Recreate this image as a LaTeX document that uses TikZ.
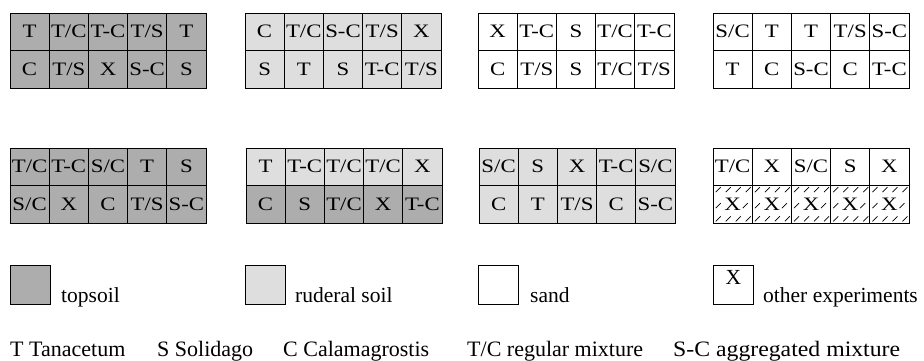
\documentclass[tikz,border=0pt]{standalone}
\usepackage{fontspec}
\setmainfont{Liberation Serif}
\newfontfamily\cellfont[FakeStretch=1.2]{Liberation Serif}
\newfontfamily\widefont[FakeStretch=1.08]{Liberation Serif}
\definecolor{topsoilc}{gray}{0.68}
\definecolor{ruderalc}{gray}{0.87}
\newcommand\gridrow[5]{%
  \foreach \t [count=\i] in {#5} {%
    \node[cell,#4] (#1-\i) at ({#2+(\i-0.5)*39.2},#3) {\t};
  }}
\begin{document}
\begin{tikzpicture}[x=1pt,y=-1pt,
  cell/.style={draw=black,line width=0.7pt,minimum width=39.2pt,minimum height=37.5pt,inner sep=0pt,
    font=\cellfont\fontsize{19}{19}\selectfont},
  topsoil/.style={fill=topsoilc},
  ruderal/.style={fill=ruderalc},
  sand/.style={fill=white},
  hatchcell/.style={fill=white},
  lab/.style={font=\fontsize{21.5}{22}\selectfont,inner sep=0pt,anchor=base west},
  keylab/.style={font=\fontsize{22}{22}\selectfont,inner sep=0pt,anchor=base west},
  legbox/.style={draw,line width=0.7pt,minimum width=40pt,minimum height=39pt,inner sep=0pt},
  slash/.style={line width=0.7pt}]
\useasboundingbox (0,0) rectangle (924,361);
% ---- row A of plots
\gridrow{a1}{10}{31.75}{topsoil}{T,T/C,T-C,T/S,T}
\gridrow{b1}{10}{69.25}{topsoil}{C,T/S,X,S-C,S}
\gridrow{a2}{245}{31.75}{ruderal}{C,T/C,S-C,T/S,X}
\gridrow{b2}{245}{69.25}{ruderal}{S,T,S,T-C,T/S}
\gridrow{a3}{478}{31.75}{sand}{X,T-C,S,T/C,T-C}
\gridrow{b3}{478}{69.25}{sand}{C,T/S,S,T/C,T/S}
\gridrow{a4}{713}{31.75}{sand}{S/C,T,T,T/S,S-C}
\gridrow{b4}{713}{69.25}{sand}{T,C,S-C,C,T-C}
% ---- row B of plots
\gridrow{a5}{10}{166.75}{topsoil}{T/C,T-C,S/C,T,S}
\gridrow{b5}{10}{204.25}{topsoil}{S/C,X,C,T/S,S-C}
\gridrow{a6}{246}{166.75}{ruderal}{T,T-C,T/C,T/C,X}
\gridrow{b6}{246}{204.25}{topsoil}{C,S,T/C,X,T-C}
\gridrow{a7}{479}{166.75}{ruderal}{S/C,S,X,T-C,S/C}
\gridrow{b7}{479}{204.25}{ruderal}{C,T,T/S,C,S-C}
\gridrow{a8}{713}{166.75}{sand}{T/C,X,S/C,S,X}
\gridrow{b8}{713}{204.25}{hatchcell}{X,X,X,X,X}
% hatch strokes in the last row
\foreach \i in {1,...,5} {
  \foreach \dx in {3,13,23,33} {
    \draw[slash] ([shift={(\dx,7)}]b8-\i.north west) -- ++(5,-5);
    \draw[slash] ([shift={(\dx,-2)}]b8-\i.south west) -- ++(5,-5);
  }
  \draw[slash] ([shift={(3,23)}]b8-\i.north west) -- ++(5,-5);
  \draw[slash] ([shift={(30,23)}]b8-\i.north west) -- ++(5,-5);
}
% ---- legend
\node[legbox,fill=topsoilc] (lt) at (30,284.5) {};
\node[lab] (ltt) at (61,302) {topsoil};
\node[legbox,fill=ruderalc] (lr) at (265,284.5) {};
\node[lab] (lrt) at (295,302) {ruderal soil};
\node[legbox,fill=white] (ls) at (498.5,284.5) {};
\node[lab] (lst) at (530,302) {sand};
\node[legbox,fill=white] (lx) at (733.5,284.5) {};
\node[font=\fontsize{21.5}{22}\selectfont,inner sep=0pt,anchor=base] (lxx) at (733.5,284) {X};
\node[lab] (lxt) at (763,302) {other experiments};
% ---- species key
\node[keylab] (k1) at (10,356) {T Tanacetum};
\node[keylab] (k2) at (157,356) {S Solidago};
\node[keylab] (k3) at (283,356) {C Calamagrostis};
\node[keylab] (k4) at (467,356) {T/C regular mixture};
\node[keylab,font=\widefont\fontsize{22}{22}\selectfont] (k5) at (673,356) {S-C aggregated mixture};
\end{tikzpicture}
\end{document}
